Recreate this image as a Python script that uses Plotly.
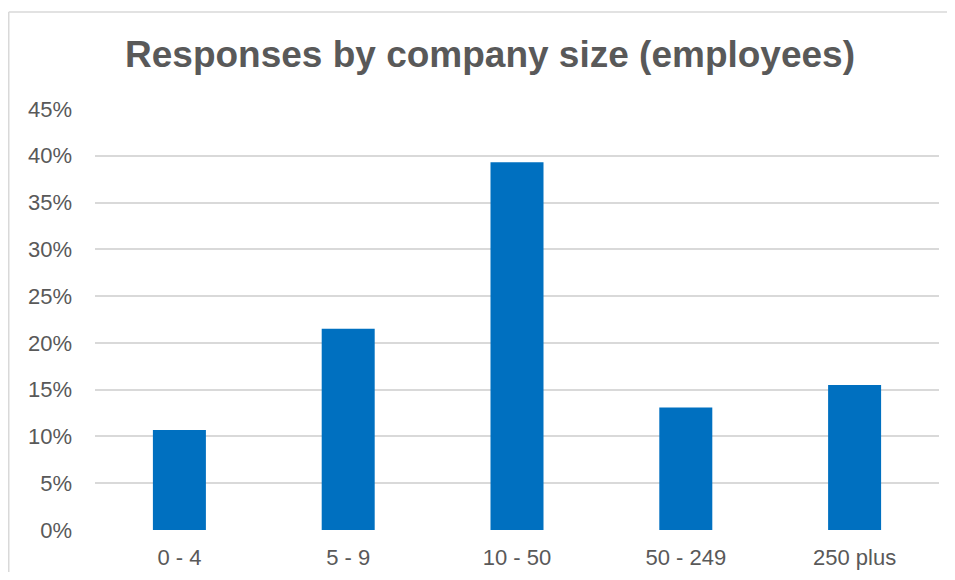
import plotly.graph_objects as go

categories = ["0 - 4", "5 - 9", "10 - 50", "50 - 249", "250 plus"]
shares = [0.107, 0.215, 0.393, 0.131, 0.155]
y_ticks = [0, 0.05, 0.10, 0.15, 0.20, 0.25, 0.30, 0.35, 0.40, 0.45]
y_tick_labels = ["0%", "5%", "10%", "15%", "20%", "25%", "30%", "35%", "40%", "45%"]

# the page adds an 8px body margin, so the figure is sized to fit the window
OFF = 8
W, H = 955 - OFF, 580 - 2 * OFF
L, R, T = 95 - OFF, 16, 109 - OFF
B = H - (530 - OFF)
pw, ph = W - L - R, H - T - B

fig = go.Figure(go.Bar(
    x=categories, y=shares,
    marker=dict(color="#0070C0", line=dict(width=0)),
))

# frame edges (left and top) in paper units
fx0 = (0.75 - L) / pw
fx1 = (W - L) / pw
fy_top = 1 + (T - 4) / ph
fy_bot = -B / ph

fig.update_layout(
    width=W, height=H,
    margin=dict(l=L, r=R, t=T, b=B, pad=0, autoexpand=False),
    paper_bgcolor="white", plot_bgcolor="white",
    bargap=0.686,
    showlegend=False,
    font=dict(family="Liberation Sans, Arial, sans-serif", color="#595959", size=22),
    title=dict(
        text="<b>Responses by company size (employees)</b>",
        x=(490 - OFF) / W, xref="container", xanchor="center",
        y=1 - (54 - OFF) / H, yref="container", yanchor="middle",
        font=dict(size=37, color="#595959", family="Liberation Sans, Arial, sans-serif"),
    ),
    xaxis=dict(
        showgrid=False, zeroline=False, showline=False, automargin=False,
        ticks="", ticklabelstandoff=12,
        tickfont=dict(size=22, color="#595959"),
    ),
    yaxis=dict(
        range=[0, 0.45], tickvals=y_ticks, ticktext=y_tick_labels,
        showgrid=True, gridcolor="#D9D9D9", gridwidth=1.5, automargin=False,
        zeroline=False, showline=False, ticks="",
        ticklabelstandoff=22,
        tickfont=dict(size=22, color="#595959"),
    ),
    shapes=[
        dict(type="line", xref="paper", yref="paper",
             x0=fx0, x1=fx1, y0=fy_top, y1=fy_top,
             line=dict(color="#D9D9D9", width=1.5), layer="below"),
        dict(type="line", xref="paper", yref="paper",
             x0=fx0, x1=fx0, y0=fy_top, y1=fy_bot,
             line=dict(color="#D9D9D9", width=1.5), layer="below"),
    ],
)

fig.write_html("out.html")
